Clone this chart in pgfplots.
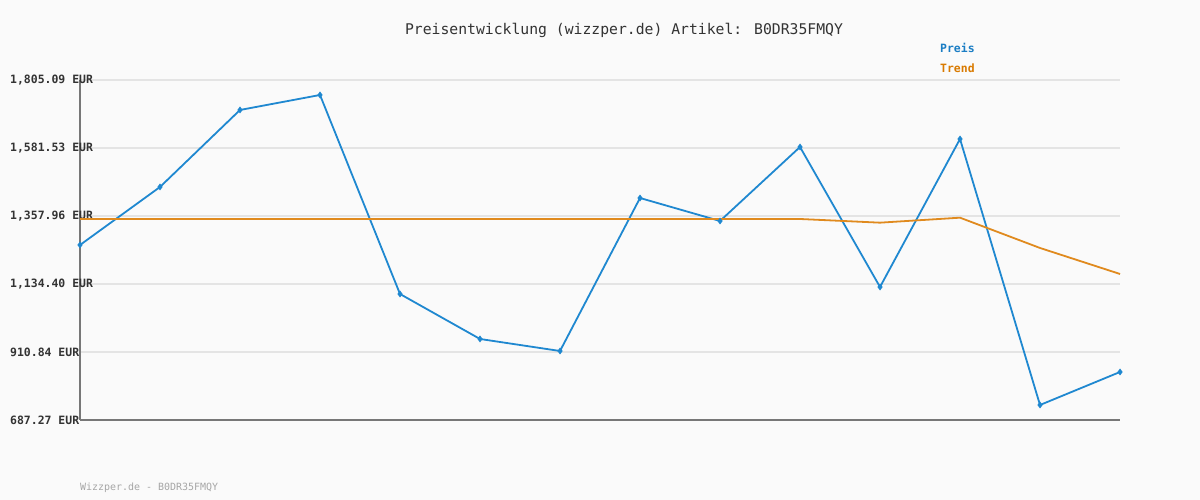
\documentclass[border=0pt]{standalone}
\usepackage{pgfplots}
\pgfplotsset{compat=1.18}
\usepackage{fontspec}
\setmainfont{DejaVu Sans Mono}
\definecolor{bg}{HTML}{FAFAFA}
\definecolor{preis}{HTML}{1F88D0}
\definecolor{trend}{HTML}{E08A1E}
\definecolor{preistext}{HTML}{1A7DC4}
\definecolor{trendtext}{HTML}{D97A00}
\definecolor{gridc}{HTML}{E4E4E4}
\definecolor{axisc}{HTML}{777777}
\begin{document}
\begin{tikzpicture}[x=1bp,y=1bp]
\fill[bg] (0,0) rectangle (1200,500);
\useasboundingbox (0,0) rectangle (1200,500);
\node[font=\fontsize{14.8}{17}\selectfont, text=black!80] at (624,470) {Preisentwicklung (wizzper.de) Artikel: B0DR35FMQY};
\node[anchor=base west, font=\fontsize{10}{12}\selectfont, text=black!35, inner sep=0pt] at (80,9) {Wizzper.de - B0DR35FMQY};
\begin{axis}[
  at={(80bp,80bp)}, anchor=south west,
  scale only axis, width=1040bp, height=340bp,
  xmin=0, xmax=13, ymin=687.27, ymax=1805.09,
  xtick=\empty,
  ytick={687.27,910.84,1134.40,1357.96,1581.53,1805.09},
  yticklabels={687.27 EUR,910.84 EUR,{1,134.40 EUR},{1,357.96 EUR},{1,581.53 EUR},{1,805.09 EUR}},
  yticklabel style={anchor=west, xshift=-70bp, inner sep=0pt, font=\bfseries\fontsize{11.5}{13}\selectfont, text=black!80},
  major tick length=0pt,
  axis x line*=bottom, axis y line*=left,
  axis line style={axisc, line width=2.5bp, -},
  ymajorgrids, grid style={gridc, line width=2bp},
  clip=false,
  legend style={at={(0.825,1.115)}, anchor=north west, draw=none, fill=none,
    font=\bfseries\fontsize{11.5}{13}\selectfont, row sep=6bp, inner sep=0pt},
  legend cell align=left,
  legend image code/.code={},
]
\addplot[preis, line width=1.8bp, mark=diamond*, mark size=2bp] coordinates {
(0,1262.6) (1,1453.3) (2,1706.5) (3,1755.8) (4,1101.5) (5,953.6) (6,914.1)
(7,1417.1) (8,1341.5) (9,1584.8) (10,1124.5) (11,1611.1) (12,736.6) (13,845.1)};
\addlegendentry{\textcolor{preistext}{Preis}}
\addplot[trend, line width=1.8bp] coordinates {
(0,1348.1) (1,1348.1) (2,1348.1) (3,1348.1) (4,1348.1) (5,1348.1) (6,1348.1)
(7,1348.1) (8,1348.1) (9,1348.1) (10,1336.0) (11,1352.4) (12,1252.8) (13,1167.3)};
\addlegendentry{\textcolor{trendtext}{Trend}}
\end{axis}
\end{tikzpicture}
\end{document}
